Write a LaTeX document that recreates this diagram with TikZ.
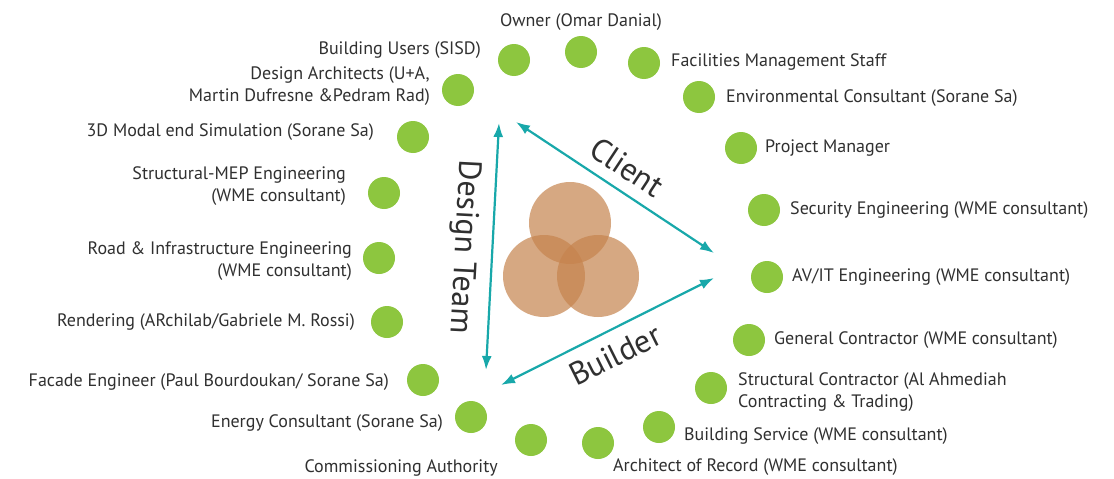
\documentclass[tikz,border=0pt]{standalone}
\usepackage{fontspec}
\setmainfont{PT Sans}
\usetikzlibrary{arrows.meta}
\definecolor{dotgreen}{RGB}{141,198,63}
\definecolor{linkteal}{RGB}{24,168,170}
\definecolor{discbrown}{RGB}{198,132,78}
\definecolor{txt}{RGB}{48,48,48}
\begin{document}
\begin{tikzpicture}[x=1pt,y=-1pt,
  member/.style={circle,fill=dotgreen,minimum size=32pt,inner sep=0pt},
  lbl/.style={text=txt,inner sep=0pt,font=\fontsize{18}{22}\selectfont},
  lblL/.style={lbl,anchor=east,align=right},
  lblR/.style={lbl,anchor=west,align=left},
  role/.style={text=txt,inner sep=0pt,font=\fontsize{32}{32}\selectfont},
  link/.style={draw=linkteal,line width=2.2pt,
    {Latex[length=14pt,width=10pt]}-{Latex[length=14pt,width=10pt]}},
  disc/.style={circle,fill=discbrown,fill opacity=0.7,minimum size=82pt,inner sep=0pt}
]
\useasboundingbox (0,0) rectangle (1114,479);
\fill[white] (0,0) rectangle (1114,479);

% three overlapping discs in the centre
\node[disc] (top)   at (570,223) {};
\node[disc] (left)  at (544,276) {};
\node[disc] (right) at (598,276) {};

% stakeholder dots
\node[member] (owner) at (581,52) {};
\node[member] (fms)   at (644,63) {};
\node[member] (env)   at (699,97) {};
\node[member] (pm)    at (741,148) {};
\node[member] (sec)   at (764,210) {};
\node[member] (avit)  at (767,277) {};
\node[member] (gc)    at (749,340) {};
\node[member] (sc)    at (711,388) {};
\node[member] (bs)    at (659,427) {};
\node[member] (aor)   at (598,443) {};
\node[member] (ca)    at (531,440) {};
\node[member] (ec)    at (471,417) {};
\node[member] (fe)    at (423,380) {};
\node[member] (rend)  at (387,322) {};
\node[member] (road)  at (379,258) {};
\node[member] (smep)  at (384,193) {};
\node[member] (sim)   at (413,137) {};
\node[member] (da)    at (458,90) {};
\node[member] (bu)    at (514,60) {};

% stakeholder labels
\node[lbl] (tOwner) at (581,22) {Owner (Omar Danial)};
\node[lblL] (tBU)   at (481,50) {Building Users (SISD)};
\node[lblL] (tDA)   at (430,86) {Design Architects (U+A,\\Martin Dufresne \&Pedram Rad)};
\node[lblL] (tSim)  at (374,132) {3D Modal end Simulation (Sorane Sa)};
\node[lblL] (tSMEP) at (346,186) {Structural-MEP Engineering\\(WME consultant)};
\node[lblL] (tRoad) at (352,261) {Road \& Infrastructure Engineering\\(WME consultant)};
\node[lblL] (tRend) at (355,322) {Rendering (ARchilab/Gabriele M. Rossi)};
\node[lblL] (tFE)   at (389,382) {Facade Engineer (Paul Bourdoukan/ Sorane Sa)};
\node[lblL] (tEC)   at (443,423) {Energy Consultant (Sorane Sa)};
\node[lblL] (tCA)   at (498,468) {Commissioning Authority};
\node[lblR] (tFMS)  at (671,62) {Facilities Management Staff};
\node[lblR] (tEnv)  at (726,98) {Environmental Consultant (Sorane Sa)};
\node[lblR] (tPM)   at (765,148) {Project Manager};
\node[lblR] (tSec)  at (790,210) {Security Engineering (WME consultant)};
\node[lblR] (tAV)   at (792,277) {AV/IT Engineering (WME consultant)};
\node[lblR] (tGC)   at (774,340) {General Contractor (WME consultant)};
\node[lblR] (tSC)   at (738,392) {Structural Contractor (Al Ahmediah\\Contracting \& Trading)};
\node[lblR] (tBS)   at (684,436) {Building Service (WME consultant)};
\node[lblR] (tAoR)  at (613,467) {Architect of Record (WME consultant)};

% corners of the role triangle
\coordinate (cA) at (516,122);
\coordinate (cB) at (714,253);
\coordinate (bA) at (714,278);
\coordinate (bB) at (501,385);
\coordinate (dA) at (499,123);
\coordinate (dB) at (486,370);

\draw[link] (cA) -- (cB);
\draw[link] (bA) -- (bB);
\draw[link] (dA) -- (dB);

\node[role,rotate=-33.5] (client)  at (627,167) {Client};
\node[role,rotate=26.5]  (builder) at (615,355) {Builder};
\node[role,rotate=-93]   (design)  at (463,247) {Design Team};
\end{tikzpicture}
\end{document}
